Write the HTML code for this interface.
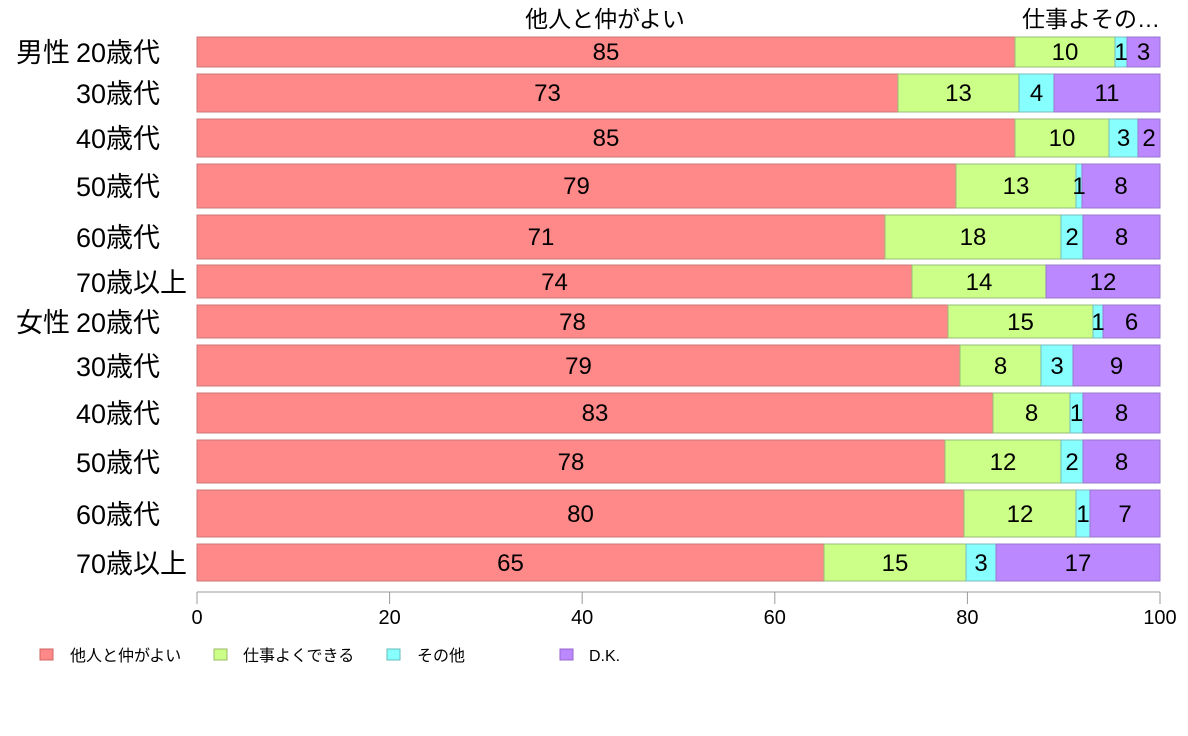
<!DOCTYPE html>
<html><head><meta charset="utf-8"><style>
html,body{margin:0;padding:0;background:#fff;}
svg{display:block;font-family:"Liberation Sans","Noto Sans CJK JP",sans-serif;}
.r{fill:#FF8888;stroke:#c77}.g{fill:#CCFF88;stroke:#9b7}.c{fill:#88FFFF;stroke:#7bb}.p{fill:#BB88FF;stroke:#97c}
</style></head><body>
<svg width="1188" height="736" viewBox="0 0 1188 736" xmlns="http://www.w3.org/2000/svg">
<g stroke-width="1">
<rect class="r" x="197" y="37" width="818" height="30"/><rect class="g" x="1015" y="37" width="100" height="30"/><rect class="c" x="1115" y="37" width="12" height="30"/><rect class="p" x="1127" y="37" width="33" height="30"/>
<rect class="r" x="197" y="74" width="701" height="38"/><rect class="g" x="898" y="74" width="121" height="38"/><rect class="c" x="1019" y="74" width="35" height="38"/><rect class="p" x="1054" y="74" width="106" height="38"/>
<rect class="r" x="197" y="119" width="818" height="38"/><rect class="g" x="1015" y="119" width="94" height="38"/><rect class="c" x="1109" y="119" width="29" height="38"/><rect class="p" x="1138" y="119" width="22" height="38"/>
<rect class="r" x="197" y="164" width="759" height="44"/><rect class="g" x="956" y="164" width="120" height="44"/><rect class="c" x="1076" y="164" width="6" height="44"/><rect class="p" x="1082" y="164" width="78" height="44"/>
<rect class="r" x="197" y="215" width="688" height="44"/><rect class="g" x="885" y="215" width="176" height="44"/><rect class="c" x="1061" y="215" width="22" height="44"/><rect class="p" x="1083" y="215" width="77" height="44"/>
<rect class="r" x="197" y="265" width="715" height="33"/><rect class="g" x="912" y="265" width="134" height="33"/><rect class="p" x="1046" y="265" width="114" height="33"/>
<rect class="r" x="197" y="305" width="751" height="33"/><rect class="g" x="948" y="305" width="145" height="33"/><rect class="c" x="1093" y="305" width="10" height="33"/><rect class="p" x="1103" y="305" width="57" height="33"/>
<rect class="r" x="197" y="345" width="763" height="41"/><rect class="g" x="960" y="345" width="81" height="41"/><rect class="c" x="1041" y="345" width="32" height="41"/><rect class="p" x="1073" y="345" width="87" height="41"/>
<rect class="r" x="197" y="393" width="796" height="40"/><rect class="g" x="993" y="393" width="77" height="40"/><rect class="c" x="1070" y="393" width="13" height="40"/><rect class="p" x="1083" y="393" width="77" height="40"/>
<rect class="r" x="197" y="440" width="748" height="43"/><rect class="g" x="945" y="440" width="116" height="43"/><rect class="c" x="1061" y="440" width="22" height="43"/><rect class="p" x="1083" y="440" width="77" height="43"/>
<rect class="r" x="197" y="490" width="767" height="47"/><rect class="g" x="964" y="490" width="112" height="47"/><rect class="c" x="1076" y="490" width="14" height="47"/><rect class="p" x="1090" y="490" width="70" height="47"/>
<rect class="r" x="197" y="544" width="627" height="37"/><rect class="g" x="824" y="544" width="142" height="37"/><rect class="c" x="966" y="544" width="30" height="37"/><rect class="p" x="996" y="544" width="164" height="37"/>
</g>
<g font-size="24" text-anchor="middle">
<text x="606" y="60">85</text><text x="1065" y="60">10</text><text x="1121" y="60">1</text><text x="1143.5" y="60">3</text>
<text x="547.5" y="101">73</text><text x="958.5" y="101">13</text><text x="1036.5" y="101">4</text><text x="1107" y="101">11</text>
<text x="606" y="146">85</text><text x="1062" y="146">10</text><text x="1123.5" y="146">3</text><text x="1149" y="146">2</text>
<text x="576.5" y="194">79</text><text x="1016" y="194">13</text><text x="1079" y="194">1</text><text x="1121" y="194">8</text>
<text x="541" y="245">71</text><text x="973" y="245">18</text><text x="1072" y="245">2</text><text x="1121.5" y="245">8</text>
<text x="554.5" y="290">74</text><text x="979" y="290">14</text><text x="1103" y="290">12</text>
<text x="572.5" y="330">78</text><text x="1020.5" y="330">15</text><text x="1098" y="330">1</text><text x="1131.5" y="330">6</text>
<text x="578.5" y="374">79</text><text x="1000.5" y="374">8</text><text x="1057" y="374">3</text><text x="1116.5" y="374">9</text>
<text x="595" y="421">83</text><text x="1031.5" y="421">8</text><text x="1076.5" y="421">1</text><text x="1121.5" y="421">8</text>
<text x="571" y="470">78</text><text x="1003" y="470">12</text><text x="1072" y="470">2</text><text x="1121.5" y="470">8</text>
<text x="580.5" y="522">80</text><text x="1020" y="522">12</text><text x="1083" y="522">1</text><text x="1125" y="522">7</text>
<text x="510.5" y="571">65</text><text x="895" y="571">15</text><text x="981" y="571">3</text><text x="1078" y="571">17</text>
</g>
<g font-size="27">
<text x="16" y="62">男性</text><text x="76" y="62">20歳代</text>
<text x="76" y="103">30歳代</text>
<text x="76" y="148">40歳代</text>
<text x="76" y="196">50歳代</text>
<text x="76" y="247">60歳代</text>
<text x="76" y="292">70歳以上</text>
<text x="16" y="332">女性</text><text x="76" y="332">20歳代</text>
<text x="76" y="376">30歳代</text>
<text x="76" y="423">40歳代</text>
<text x="76" y="472">50歳代</text>
<text x="76" y="524">60歳代</text>
<text x="76" y="573">70歳以上</text>
</g>
<text x="605" y="27" font-size="23" text-anchor="middle">他人と仲がよい</text>
<text x="1160" y="27" font-size="23" text-anchor="end">仕事よその…</text>
<line x1="197" y1="592" x2="1160" y2="592" stroke="#bbb" stroke-width="1.5"/>
<g stroke="#999" stroke-width="1">
<line x1="197" y1="592" x2="197" y2="604"/><line x1="389.6" y1="592" x2="389.6" y2="604"/><line x1="582.2" y1="592" x2="582.2" y2="604"/><line x1="774.8" y1="592" x2="774.8" y2="604"/><line x1="967.4" y1="592" x2="967.4" y2="604"/><line x1="1160" y1="592" x2="1160" y2="604"/>
</g>
<g font-size="20" text-anchor="middle">
<text x="197" y="624">0</text><text x="389.6" y="624">20</text><text x="582.2" y="624">40</text><text x="774.8" y="624">60</text><text x="967.4" y="624">80</text><text x="1160" y="624">100</text>
</g>
<g font-size="16">
<rect x="40" y="649" width="13" height="11" fill="#FF8888" stroke="#c66"/><text x="70" y="661">他人と仲がよい</text>
<rect x="214" y="649" width="13" height="11" fill="#CCFF88" stroke="#9b6"/><text x="243" y="661">仕事よくできる</text>
<rect x="387" y="649" width="13" height="11" fill="#88FFFF" stroke="#6bb"/><text x="417" y="661">その他</text>
<rect x="560" y="649" width="13" height="11" fill="#BB88FF" stroke="#96c"/><text x="589" y="661">D.K.</text>
</g>
</svg>
</body></html>
